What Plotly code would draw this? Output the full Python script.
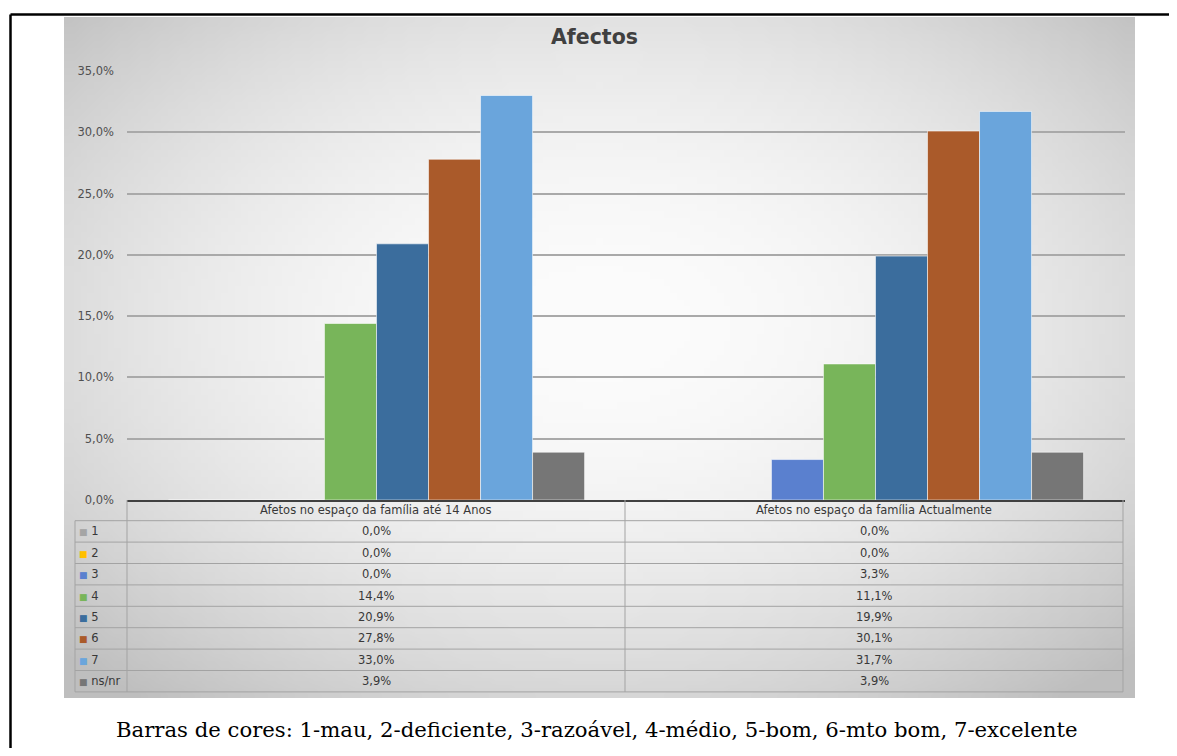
import base64, zlib, struct
import numpy as np
import plotly.graph_objects as go

# ---------------- data ----------------
categories = ["Afetos no espaço da família até 14 Anos",
              "Afetos no espaço da família Actualmente"]
series_names = ["1", "2", "3", "4", "5", "6", "7", "ns/nr"]
s1 = [0.0, 0.0]
s2 = [0.0, 0.0]
s3 = [0.0, 3.3]
s4 = [14.4, 11.1]
s5 = [20.9, 19.9]
s6 = [27.8, 30.1]
s7 = [33.0, 31.7]
s_nsnr = [3.9, 3.9]
series_values = [s1, s2, s3, s4, s5, s6, s7, s_nsnr]
y_ticks = [0, 5, 10, 15, 20, 25, 30, 35]
title_text = "Afectos"
caption_text = ("Barras de cores: 1-mau, 2-deficiente, 3-razoável, 4-médio, "
                "5-bom, 6-mto bom, 7-excelente")


def fmt(v):
    return f"{v:.1f}".replace(".", ",") + "%"


y_tick_labels = [fmt(v) for v in y_ticks]

# ---------------- styles / layout ----------------
colors = ["#a5a5a5", "#ffc000", "#5a80cf", "#78b55a",
          "#3b6d9d", "#aa5a2a", "#6aa5dc", "#767676"]
OFF = 8                       # page body margin of the html page
W, H = 1177 - 2 * OFF, 756 - 2 * OFF
PL, PR, PT, PB = 127, 1125, 71, 500   # plot area in screen pixels
SANS = "DejaVu Sans, Verdana, sans-serif"


def px(x):
    return (x - PL) / (PR - PL)


def py(y):
    return (PB - y) / (PB - PT)


# ---------------- background gradient image ----------------
def gradient_png(w=160, h=100):
    u = np.linspace(-1, 1, w)[None, :]
    v = np.linspace(-1, 1, h)[:, None] + 0.1
    d = np.sqrt(u ** 2 + v ** 2) / np.sqrt(2)
    d = np.clip(d, 0, 1)
    g = (252 - 62 * d ** 2).astype(np.uint8)
    raw = b"".join(b"\x00" + bytes(row) for row in g)

    def chunk(t, data):
        return (struct.pack(">I", len(data)) + t + data +
                struct.pack(">I", zlib.crc32(t + data) & 0xffffffff))
    png = (b"\x89PNG\r\n\x1a\n" +
           chunk(b"IHDR", struct.pack(">IIBBBBB", w, h, 8, 0, 0, 0, 0)) +
           chunk(b"IDAT", zlib.compress(raw, 9)) +
           chunk(b"IEND", b""))
    return "data:image/png;base64," + base64.b64encode(png).decode()


fig = go.Figure()
for name, vals, col in zip(series_names, series_values, colors):
    fig.add_trace(go.Bar(
        x=categories, y=vals, name=name,
        marker=dict(color=col, line=dict(color="rgba(255,255,255,0.55)", width=1)),
        hoverinfo="skip"))

shapes = []
annotations = []

# outer black frame (top & left visible)
shapes.append(dict(type="line", xref="paper", yref="paper",
                   x0=px(10.5), x1=px(1200), y0=py(14.5), y1=py(14.5),
                   line=dict(color="black", width=2.5)))
shapes.append(dict(type="line", xref="paper", yref="paper",
                   x0=px(10.5), x1=px(10.5), y0=py(14.5), y1=py(800),
                   line=dict(color="black", width=2.5)))

# data table geometry
tab_left, col1, col_mid, tab_right = 75, 127, 625, 1123
hdr_top, row_top, row_h = 500, 520.7, 21.4
n_rows = len(series_names)
tab_bottom = row_top + n_rows * row_h
line_col = "#a3a3a3"
for i in range(n_rows + 1):
    yy = row_top + i * row_h
    shapes.append(dict(type="line", xref="paper", yref="paper",
                       x0=px(tab_left), x1=px(tab_right), y0=py(yy), y1=py(yy),
                       line=dict(color=line_col, width=1)))
for xx, top in [(tab_left, row_top), (col1, hdr_top), (col_mid, hdr_top), (tab_right, hdr_top)]:
    shapes.append(dict(type="line", xref="paper", yref="paper",
                       x0=px(xx), x1=px(xx), y0=py(top), y1=py(tab_bottom),
                       line=dict(color=line_col, width=1)))

tfont = dict(family=SANS, size=11.5, color="#383838")
col_centers = [(col1 + col_mid) / 2, (col_mid + tab_right) / 2]
for c, cat in enumerate(categories):
    annotations.append(dict(xref="paper", yref="paper", x=px(col_centers[c]),
                            y=py((hdr_top + row_top) / 2), text=cat, showarrow=False,
                            xanchor="center", yanchor="middle", font=tfont))
for r, (name, vals, col) in enumerate(zip(series_names, series_values, colors)):
    yc = row_top + (r + 0.5) * row_h
    annotations.append(dict(xref="paper", yref="paper", x=px(tab_left + 2), y=py(yc),
                            text=f"<span style='color:{col};font-size:9px'>■</span> {name}",
                            showarrow=False, xanchor="left", yanchor="middle",
                            font=dict(family=SANS, size=11.5, color="#383838")))
    for c in range(len(categories)):
        annotations.append(dict(xref="paper", yref="paper", x=px(col_centers[c]), y=py(yc),
                                text=fmt(vals[c]), showarrow=False,
                                xanchor="center", yanchor="middle", font=tfont))

# title
annotations.append(dict(xref="paper", yref="paper", x=px(594), y=py(37),
                        text=f"<b>{title_text}</b>", showarrow=False,
                        xanchor="center", yanchor="middle",
                        font=dict(family=SANS, size=20.5, color="#404040")))
# caption
annotations.append(dict(xref="paper", yref="paper", x=px(597), y=py(729),
                        text=caption_text, showarrow=False,
                        xanchor="center", yanchor="middle",
                        font=dict(family="DejaVu Serif, Liberation Serif, serif",
                                  size=21.2, color="black")))

fig.update_layout(
    width=W, height=H,
    margin=dict(l=PL - OFF, r=W - (PR - OFF), t=PT - OFF, b=H - (PB - OFF), pad=0),
    paper_bgcolor="white", plot_bgcolor="rgba(0,0,0,0)",
    barmode="group", bargap=0.166, bargroupgap=0,
    showlegend=False,
    xaxis=dict(showticklabels=False, showgrid=False, zeroline=False,
               showline=True, linecolor="#404040", linewidth=1.5, ticks=""),
    yaxis=dict(range=[0, 35], tickvals=y_ticks, ticktext=y_tick_labels,
               showgrid=True, gridcolor="#a9a9a9", gridwidth=1.7, zeroline=False,
               ticks="", ticklabelstandoff=12,
               tickfont=dict(family=SANS, size=11.5, color="#505050")),
    shapes=shapes,
    annotations=annotations,
    images=[dict(source=gradient_png(), xref="paper", yref="paper",
                 x=px(64), y=py(17), sizex=(1135 - 64) / (PR - PL),
                 sizey=(698 - 17) / (PB - PT), xanchor="left", yanchor="top",
                 sizing="stretch", layer="below")],
)

fig.write_html("out.html")
